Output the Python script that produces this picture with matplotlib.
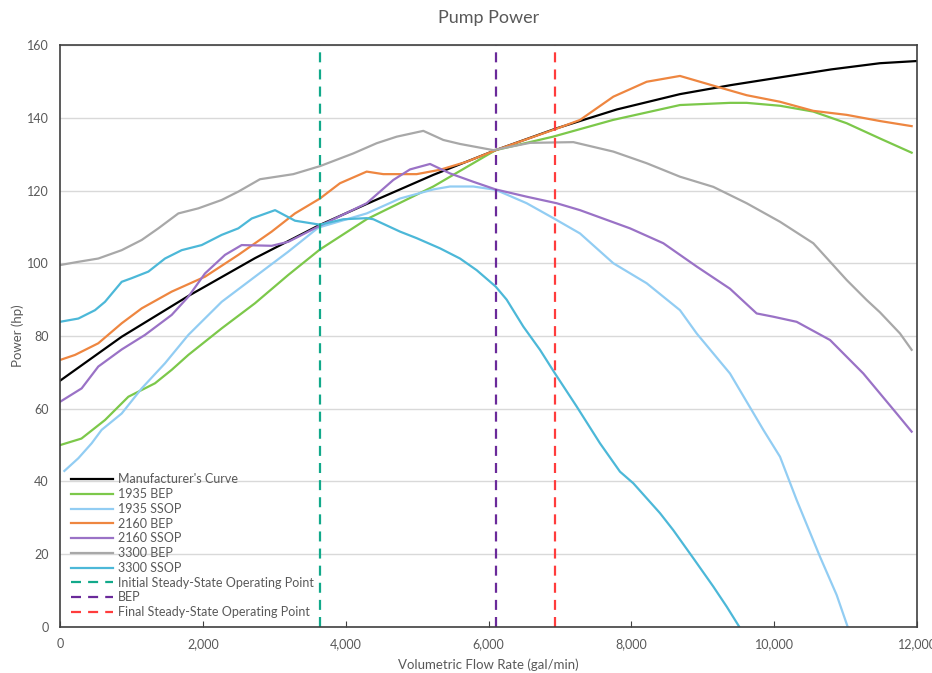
import matplotlib
matplotlib.use("Agg")
import matplotlib.pyplot as plt

plt.rcParams['font.family'] = ['Lato', 'DejaVu Sans']

# ---- data (flow gal/min, power hp) ----
mfr_x = [0, 864, 1797, 2730, 3612, 4294, 5227, 6100, 6954, 7800, 8681, 9400, 10082, 10800, 11482, 12000]
mfr_y = [67.7, 79.8, 91.0, 101.4, 110.3, 116.3, 124.3, 131.1, 137.1, 142.3, 146.5, 149.0, 151.1, 153.3, 155.0, 155.6]

bep1935_x = [0, 300, 630, 957, 1330, 1564, 1797, 2264, 2730, 3197, 3640, 4294, 5227, 6100, 6903, 7743, 8681, 9381, 9615, 10082, 10548, 11015, 11482, 11925]
bep1935_y = [50.0, 51.8, 56.9, 63.3, 67.0, 70.7, 74.8, 82.1, 89.0, 96.8, 103.8, 112.1, 121.1, 131.1, 134.8, 139.4, 143.5, 144.1, 144.1, 143.3, 141.7, 138.5, 134.3, 130.4]

ssop1935_x = [61, 257, 443, 583, 864, 1144, 1470, 1797, 2264, 2730, 3197, 3617, 4294, 4761, 5227, 5461, 5787, 6100, 6535, 6908, 7281, 7748, 8215, 8681, 8915, 9381, 9848, 10082, 10315, 10642, 10875, 11030]
ssop1935_y = [42.9, 46.4, 50.5, 54.2, 58.7, 65.6, 72.5, 80.3, 89.4, 96.3, 103.2, 109.8, 113.7, 117.8, 120.3, 121.1, 121.1, 120.2, 116.5, 112.4, 108.2, 100.0, 94.5, 87.1, 80.7, 69.7, 54.2, 46.8, 34.9, 19.3, 8.8, 0.0]

bep2160_x = [0, 210, 536, 864, 1144, 1564, 2030, 2497, 2964, 3290, 3640, 3920, 4294, 4527, 4994, 5321, 5694, 6100, 6954, 7281, 7748, 8215, 8681, 9241, 9615, 10082, 10548, 11015, 11482, 11925]
bep2160_y = [73.4, 74.8, 78.0, 83.5, 87.6, 92.2, 96.3, 102.3, 108.7, 113.7, 117.8, 122.0, 125.2, 124.5, 124.5, 125.7, 127.9, 131.1, 137.0, 139.4, 145.8, 149.9, 151.5, 148.3, 146.2, 144.4, 141.9, 140.8, 139.1, 137.7]

ssop2160_x = [0, 303, 536, 864, 1190, 1564, 1797, 2030, 2310, 2544, 2964, 3197, 3617, 4294, 4667, 4901, 5181, 5461, 5787, 6100, 6535, 6955, 7281, 7981, 8448, 8915, 9381, 9755, 9988, 10315, 10782, 11248, 11715, 11925]
ssop2160_y = [61.9, 65.6, 71.6, 76.3, 80.3, 85.8, 90.8, 97.2, 102.3, 105.0, 104.8, 105.9, 110.1, 116.5, 122.9, 125.8, 127.3, 124.7, 122.4, 120.3, 118.3, 116.5, 114.6, 109.6, 105.5, 99.1, 93.0, 86.2, 85.3, 83.9, 78.9, 69.7, 58.7, 53.7]

bep3300_x = [0, 257, 536, 864, 1144, 1377, 1657, 1937, 2264, 2497, 2800, 3267, 3640, 4107, 4434, 4714, 5087, 5367, 5601, 6067, 6581, 7188, 7748, 8215, 8681, 9148, 9615, 10082, 10548, 11015, 11295, 11482, 11762, 11925]
bep3300_y = [99.5, 100.4, 101.3, 103.6, 106.4, 109.6, 113.7, 115.1, 117.4, 119.7, 123.1, 124.5, 126.7, 130.2, 133.0, 134.8, 136.4, 133.9, 132.8, 131.1, 133.1, 133.3, 130.7, 127.5, 123.8, 121.0, 116.5, 111.4, 105.5, 95.4, 89.9, 86.5, 80.7, 76.2]

ssop3300_x = [0, 257, 490, 630, 864, 1004, 1237, 1470, 1704, 1984, 2264, 2497, 2684, 3011, 3290, 3640, 3967, 4294, 4387, 4761, 4994, 5321, 5601, 5834, 6100, 6254, 6487, 6721, 6931, 7235, 7561, 7841, 8028, 8401, 8588, 8868, 9148, 9335, 9513]
ssop3300_y = [83.9, 84.8, 87.1, 89.4, 94.9, 95.9, 97.7, 101.3, 103.6, 105.0, 107.8, 109.6, 112.3, 114.6, 111.7, 110.6, 112.1, 112.4, 112.1, 108.7, 106.9, 104.1, 101.3, 98.1, 93.6, 90.0, 82.6, 76.2, 69.7, 60.6, 50.5, 42.7, 39.5, 31.3, 26.6, 18.9, 11.1, 5.6, 0.0]

initial_op = 3640
bep_flow = 6105
final_op = 6931

series = [
    ("Manufacturer's Curve", mfr_x, mfr_y, '#000000'),
    ("1935 BEP", bep1935_x, bep1935_y, '#7cc84a'),
    ("1935 SSOP", ssop1935_x, ssop1935_y, '#92cdf3'),
    ("2160 BEP", bep2160_x, bep2160_y, '#ee8640'),
    ("2160 SSOP", ssop2160_x, ssop2160_y, '#9a72c6'),
    ("3300 BEP", bep3300_x, bep3300_y, '#a8a8a8'),
    ("3300 SSOP", ssop3300_x, ssop3300_y, '#4cb8d8'),
]
vlines = [
    ("Initial Steady-State Operating Point", initial_op, '#12a98a'),
    ("BEP", bep_flow, '#6a2a9a'),
    ("Final Steady-State Operating Point", final_op, '#ff3c3c'),
]

fig = plt.figure(figsize=(9.32, 6.73), dpi=100)
ax = fig.add_axes([0.0644, 0.0684, 0.9195, 0.8647])

for name, xs, ys, c in series:
    ax.plot(xs, ys, color=c, lw=1.6, label=name, solid_joinstyle='round')
for name, xv, c in vlines:
    ax.axvline(xv, color=c, lw=1.6, ls=(0, (4.5, 3.2)), label=name)

ax.set_xlim(0, 12000)
ax.set_ylim(0, 160)
ax.set_xticks(range(0, 12001, 2000))
ax.set_xticklabels([f"{v:,}" for v in range(0, 12001, 2000)])
ax.set_yticks(range(0, 161, 20))
ax.yaxis.grid(True, color='#d9d9d9', lw=1)
ax.set_axisbelow(True)
ax.tick_params(axis='x', direction='in', length=4, color='#404040', labelsize=9, labelcolor='#595959', pad=8)
ax.tick_params(axis='y', length=0, labelsize=9, labelcolor='#595959', pad=8)
for s in ax.spines.values():
    s.set_color('#404040')
    s.set_linewidth(1.2)

ax.set_xlabel("Volumetric Flow Rate (gal/min)", fontsize=9.5, color='#595959', labelpad=6)
ax.set_ylabel("Power (hp)", fontsize=9.5, color='#595959', labelpad=2)
ax.set_title("Pump Power", fontsize=13, color='#595959', pad=16)

leg = ax.legend(loc='lower left', bbox_to_anchor=(0.003, 0.0), frameon=False, fontsize=9,
                handlelength=3.3, handletextpad=0.4, labelspacing=0.22, borderaxespad=0.3)
for t in leg.get_texts():
    t.set_color('#595959')

fig.savefig("out.png", dpi=100)
